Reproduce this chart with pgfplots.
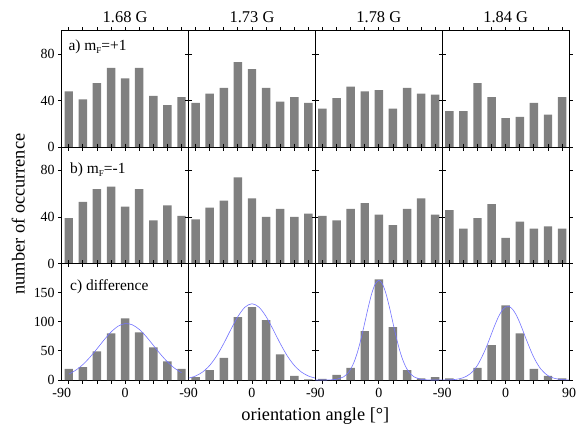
\documentclass[border=0pt]{standalone}
\usepackage{pgfplots}
\pgfplotsset{compat=1.18}
\usepackage{pgfplotstable}
\usepackage{fontspec}
\setmainfont{Liberation Serif}

\definecolor{bargray}{RGB}{128,128,128}
\definecolor{fitblue}{RGB}{115,115,255}

% counts per orientation bin, one column per field
\pgfplotstableread{
x   p1  p2  p3  p4
-80 48  38  33  31
-60 41  46  42  31
-40 55  51  52  55
-20 68  73  48  43
0   59  67  49  25
20  68  51  33  26
40  44  39  51  38
60  36  43  46  28
80  43  38  45  43
}\rowa
\pgfplotstableread{
x   p1  p2  p3  p4
-80 39  38  41  46
-60 53  48  37  30
-40 64  54  47  39
-20 66  74  52  51
0   49  56  42  22
20  64  40  33  36
40  37  47  47  30
60  50  40  56  32
80  41  43  42  30
}\rowb
\pgfplotstableread{
x   p1  p2  p3  p4
-80 19  5   2   3
-60 22  17  9   1
-40 49  38  21  21
-20 80  108 84  60
0   106 125 173 128
20  82  103 91  80
40  56  44  17  19
60  32  7   3   7
80  19  1   5   3
}\rowc

\newcommand{\subF}{\raisebox{-0.45ex}{\fontsize{9}{9}\selectfont F}}

\pgfplotsset{
  panel/.style={
    scale only axis, width=126.85bp, height=116.43bp, anchor=south west,
    xmin=-90, xmax=90, ymin=0,
    axis line style={line width=0.8bp},
    tick style={line width=0.8bp, black},
    major tick length=3.5bp,
    tick align=outside,
    xtick={-80,-60,-40,-20,0,20,40,60,80},
    xticklabels={},
    yticklabels={},
    tick label style={font=\fontsize{14}{14}\selectfont},
    xticklabel style={yshift=-1.5bp},
  },
  rowa/.style={panel, ymax=100, ytick={0,40,80}},
  rowb/.style={panel, ymax=100, ytick={0,40,80}},
  rowc/.style={panel, ymax=200, ytick={0,50,100,150}},
  leftlab40/.style={yticklabels={\mbox{0},\mbox{40},\mbox{80}}},
  leftlab50/.style={yticklabels={\mbox{0},\mbox{50},\mbox{100},\mbox{150}}},
  bottomlab/.style={xticklabels={,,,,\mbox{0},,,,},
    extra x ticks={-90}, extra x tick labels={\mbox{-90}},
    extra x tick style={tick style={draw=none}}},
  bars/.style={ybar, bar width=12, fill=bargray, draw=none},
  fit/.style={fitblue, line width=0.6bp, smooth, no markers},
}

\begin{document}
\begin{tikzpicture}[x=1bp, y=1bp]
% row a
\begin{axis}[rowa, leftlab40, at={(61.7bp,278.86bp)}]
\addplot[bars] table[x=x, y=p1] {\rowa};
\end{axis}
\begin{axis}[rowa, at={(188.55bp,278.86bp)}]
\addplot[bars] table[x=x, y=p2] {\rowa};
\end{axis}
\begin{axis}[rowa, at={(315.4bp,278.86bp)}]
\addplot[bars] table[x=x, y=p3] {\rowa};
\end{axis}
\begin{axis}[rowa, at={(442.25bp,278.86bp)}]
\addplot[bars] table[x=x, y=p4] {\rowa};
\end{axis}
% row b
\begin{axis}[rowb, leftlab40, at={(61.7bp,162.43bp)}]
\addplot[bars] table[x=x, y=p1] {\rowb};
\end{axis}
\begin{axis}[rowb, at={(188.55bp,162.43bp)}]
\addplot[bars] table[x=x, y=p2] {\rowb};
\end{axis}
\begin{axis}[rowb, at={(315.4bp,162.43bp)}]
\addplot[bars] table[x=x, y=p3] {\rowb};
\end{axis}
\begin{axis}[rowb, at={(442.25bp,162.43bp)}]
\addplot[bars] table[x=x, y=p4] {\rowb};
\end{axis}
% row c with fitted curves
\begin{axis}[rowc, leftlab50, bottomlab, at={(61.7bp,46bp)}]
\addplot[bars] table[x=x, y=p1] {\rowc};
\addplot[fit] coordinates {
(-80,10.0) (-70,16.9) (-60,26.5) (-50,39.0) (-40,53.5) (-30,68.7) (-20,82.4)
(-10,92.4) (0,96.9) (10,94.9) (20,87.0) (30,74.5) (40,59.6) (50,44.6)
(60,31.2) (70,20.4) (80,12.5)};
\end{axis}
\begin{axis}[rowc, bottomlab, at={(188.55bp,46bp)}]
\addplot[bars] table[x=x, y=p2] {\rowc};
\addplot[fit] coordinates {
(-90,3.2) (-80,6.9) (-70,13.8) (-60,25.1) (-50,41.6) (-40,62.9) (-30,86.7)
(-20,109.0) (-10,125.1) (0,131.0) (10,125.1) (20,109.0) (30,86.7) (40,62.9)
(50,41.6) (60,25.1) (70,13.8) (80,6.9) (90,3.2)};
\end{axis}
\begin{axis}[rowc, bottomlab, at={(315.4bp,46bp)}]
\addplot[bars] table[x=x, y=p3] {\rowc};
\addplot[fit] coordinates {
(-90,0) (-80,0) (-70,0.2) (-60,1.2) (-50,5.4) (-45,10.3) (-40,18.6) (-35,31.3)
(-30,49.2) (-25,72.0) (-20,98.3) (-15,125.2) (-10,148.9) (-5,165.2) (0,171.0)
(5,165.2) (10,148.9) (15,125.2) (20,98.3) (25,72.0) (30,49.2) (35,31.3)
(40,18.6) (45,10.3) (50,5.4) (60,1.2) (70,0.2) (80,0) (90,0)};
\end{axis}
\begin{axis}[rowc, bottomlab, extra x ticks={-90,90},
  extra x tick labels={\mbox{-90},\mbox{90}}, at={(442.25bp,46bp)}]
\addplot[bars] table[x=x, y=p4] {\rowc};
\addplot[fit] coordinates {
(-90,0.1) (-80,0.3) (-70,1.2) (-60,4.0) (-50,11.0) (-40,25.4) (-30,49.2)
(-25,64.0) (-20,79.9) (-15,95.5) (-10,109.2) (-5,119.7) (0,125.5) (5,126.1)
(10,121.2) (15,111.6) (20,98.4) (25,83.1) (30,67.2) (40,38.5) (50,18.6)
(60,7.5) (70,2.6) (80,0.7) (90,0.2)};
\end{axis}

% field titles
\begin{scope}[every node/.style={font=\fontsize{16.5}{16.5}\selectfont, anchor=base}]
\node at (125.1,403.3) {1.68 G};
\node at (252.0,403.3) {1.73 G};
\node at (378.8,403.3) {1.78 G};
\node at (505.7,403.3) {1.84 G};
\end{scope}
% panel labels
\begin{scope}[every node/.style={font=\fontsize{15.5}{15.5}\selectfont, anchor=base west, inner sep=0pt}]
\node at (68.3,376) {a) m\subF=+1};
\node at (70,252.7) {b) m\subF=-1};
\node at (70,136) {c) difference};
\end{scope}
% axis labels
\node[font=\fontsize{18.4}{18.4}\selectfont, rotate=90] at (18.3,212) {number of occurrence};
\node[font=\fontsize{18.4}{18.4}\selectfont, anchor=base] at (315.4,6) {orientation angle [°]};

\pgfresetboundingbox
\path[use as bounding box] (0,0) rectangle (584,426);
\end{tikzpicture}
\end{document}
